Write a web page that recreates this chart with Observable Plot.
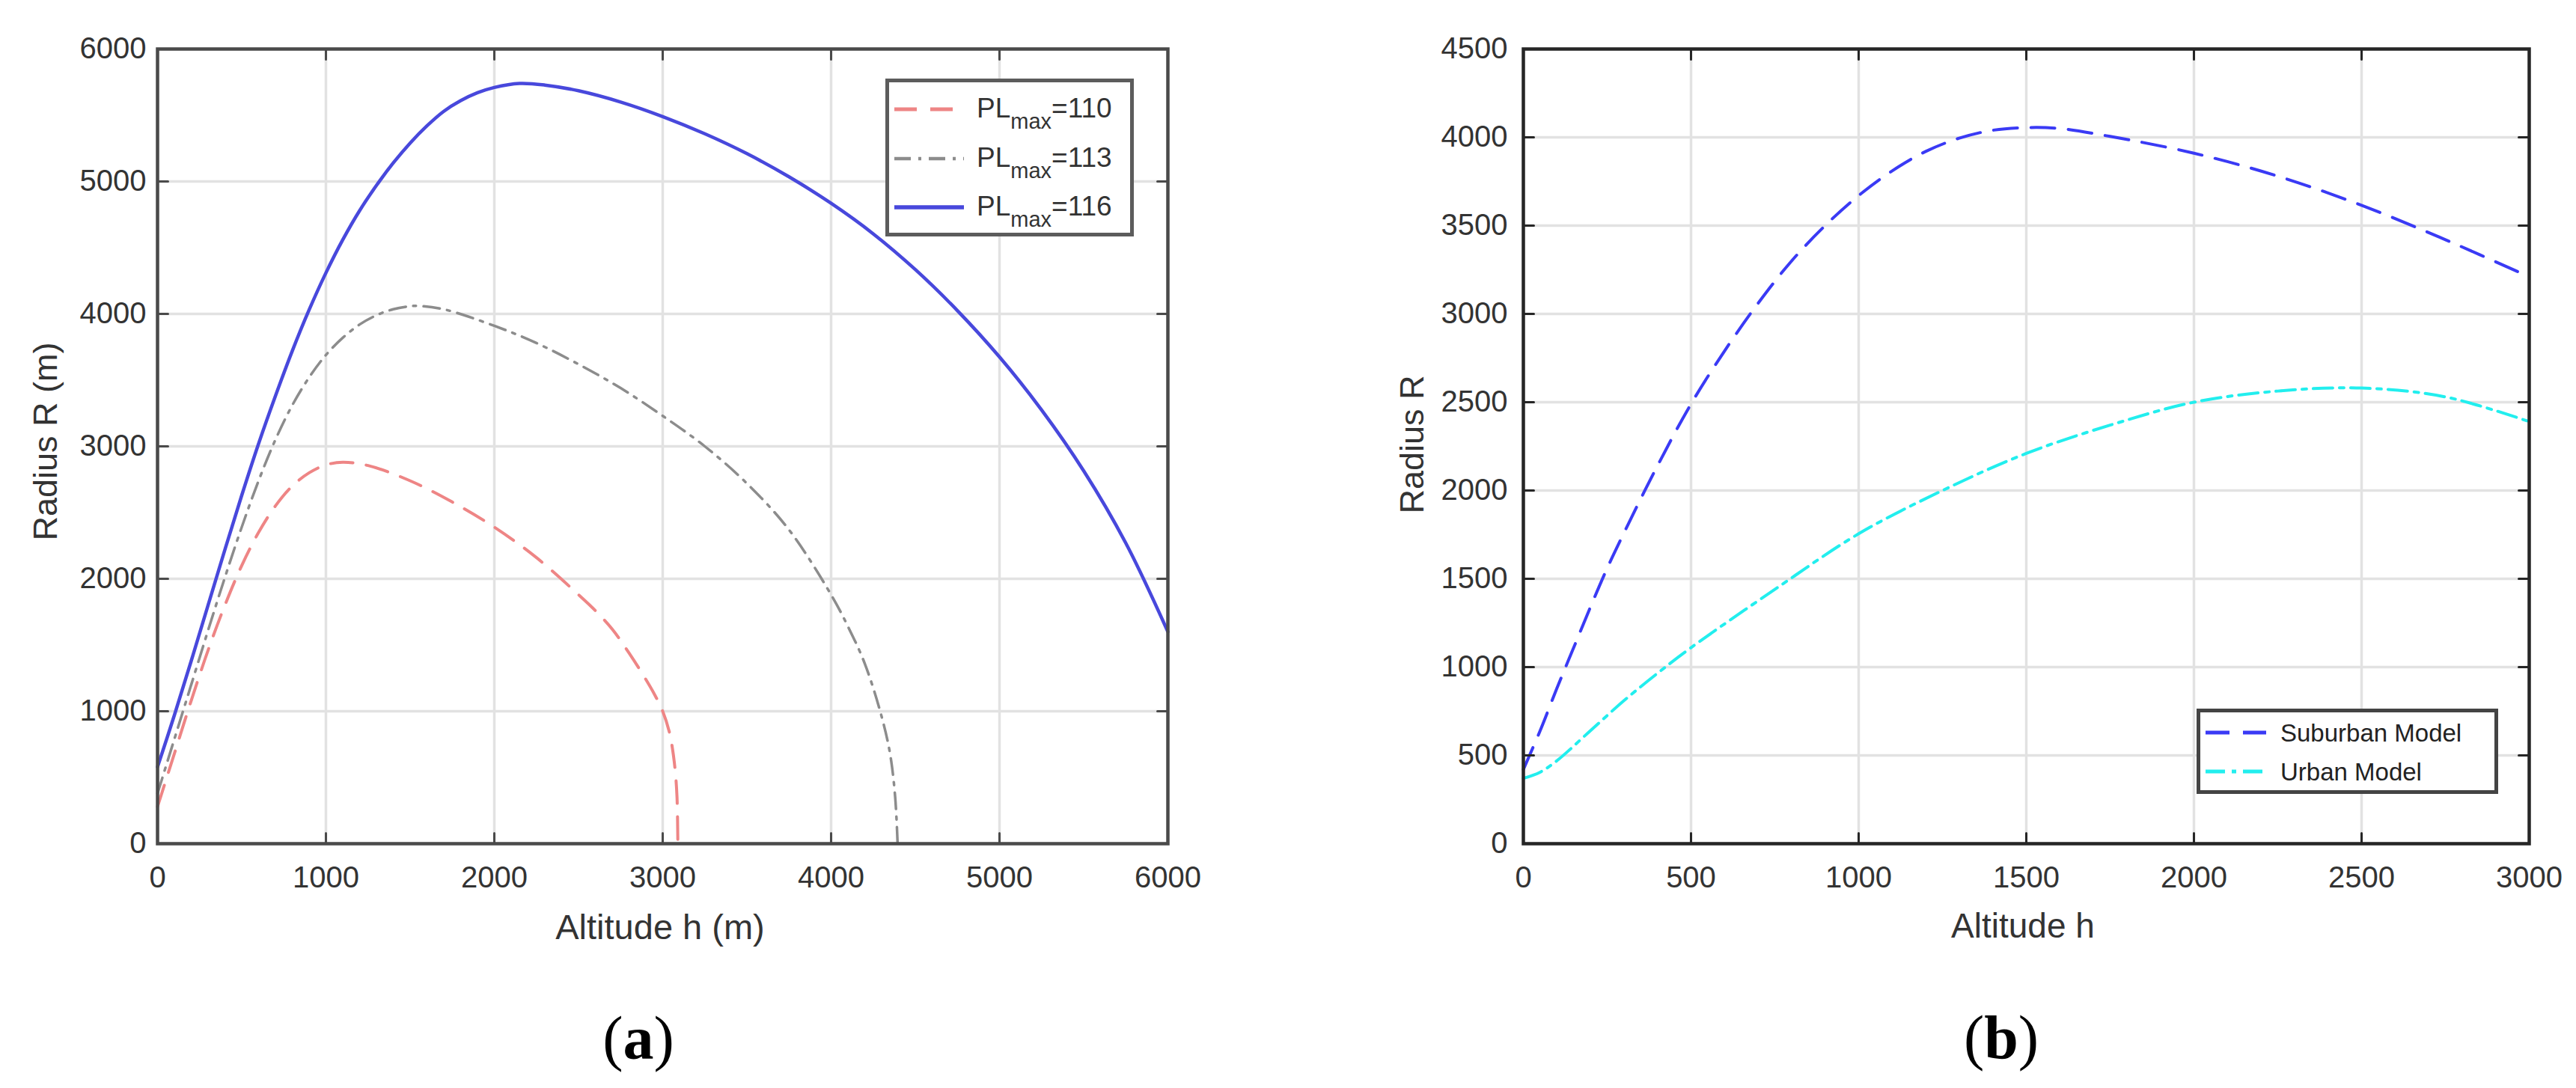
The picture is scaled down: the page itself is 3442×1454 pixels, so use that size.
<!DOCTYPE html>
<html>
<head>
<meta charset="utf-8">
<script src="https://cdn.jsdelivr.net/npm/d3@7"></script>
<script src="https://cdn.jsdelivr.net/npm/@observablehq/plot@0.6"></script>
<style>
  html, body { margin: 0; padding: 0; background: #fff; }
  body { width: 3442px; height: 1454px; position: relative; overflow: hidden;
         font-family: "Liberation Sans", Arial, Helvetica, sans-serif; color: #333; }
  .panel { position: absolute; top: 0; }
  .panel svg { display: block; max-width: none !important; }
  .axlabel { position: absolute; white-space: nowrap; line-height: 1; transform: translate(-50%, -50%); color: #333; }
  .ylab { transform: translate(-50%, -50%) rotate(-90deg); }
  .legend { position: absolute; box-sizing: border-box; background: #fff; }
  .legend .row { position: absolute; white-space: nowrap; line-height: 1; }
  .legend svg { position: absolute; overflow: visible; }
  .cap { position: absolute; font-family: "Liberation Serif", "Times New Roman", serif; font-size: 82px;
         line-height: 1; color: #000; transform: translate(-50%, -50%); white-space: nowrap; }
</style>
</head>
<body>
<div id="left" class="panel" style="left:0px;width:1720px;"></div>
<div id="right" class="panel" style="left:1720px;width:1722px;"></div>

<!-- axis labels -->
<div class="axlabel" style="left:882px;top:1238px;font-size:47px;">Altitude h (m)</div>
<div class="axlabel ylab" style="left:60px;top:590px;font-size:45px;">Radius R (m)</div>
<div class="axlabel" style="left:2703px;top:1237px;font-size:46px;">Altitude h</div>
<div class="axlabel ylab" style="left:1886px;top:594px;font-size:45px;">Radius R</div>

<!-- captions -->
<div class="cap" style="left:853px;top:1388px;">(<b>a</b>)</div>
<div class="cap" style="left:2674px;top:1387px;">(<b>b</b>)</div>

<!-- legends -->
<div id="legA" class="legend" style="left:1183px;top:105px;width:332px;height:211px;border:5px solid #5c5c5c;"></div>
<div id="legB" class="legend" style="left:2935px;top:947px;width:403px;height:114px;border:5px solid #444;"></div>

<script>
// ---------------- DATA ----------------
// Panel (a): Radius R vs altitude h for three maximum path loss values
const altitude110 = [0,100,200,300,400,500,600,700,800,900,1000,1100,1250,1500,1750,2000,2250,2500,2600,2700,2800,2900,2950,3000,3040,3060,3075,3085,3090];
const radius110   = [280,680,1080,1460,1800,2100,2350,2550,2700,2800,2860,2880,2855,2740,2580,2390,2160,1880,1760,1620,1440,1240,1130,1000,840,700,540,350,0];

const altitude113 = [0,100,200,300,400,500,600,700,800,900,1000,1100,1200,1300,1400,1500,1550,1700,2000,2250,2500,2750,3000,3250,3500,3750,4000,4100,4200,4300,4350,4380,4395];
const radius113   = [380,790,1200,1610,2010,2390,2740,3050,3310,3520,3690,3820,3920,3990,4035,4058,4060,4035,3910,3780,3620,3440,3230,3000,2720,2370,1880,1640,1360,960,680,360,0];

const altitude116 = [0,100,200,300,400,500,600,700,800,900,1000,1100,1200,1300,1400,1500,1600,1700,1800,1900,2000,2150,2300,2500,2750,3000,3250,3500,3750,4000,4250,4500,4750,5000,5250,5500,5750,6000];
const radius116   = [580,970,1380,1800,2220,2630,3020,3380,3720,4030,4310,4560,4780,4970,5140,5290,5420,5530,5610,5670,5710,5740,5728,5685,5600,5490,5360,5210,5035,4835,4605,4335,4025,3675,3275,2815,2270,1600];

// Panel (b): suburban vs urban model
const altitudeSuburban = [0,50,100,150,200,250,300,400,500,600,700,800,900,1000,1100,1200,1300,1400,1500,1600,1750,2000,2250,2500,2750,3000];
const radiusSuburban   = [420,640,880,1110,1340,1560,1760,2140,2490,2790,3060,3300,3500,3670,3810,3920,3995,4040,4055,4050,4005,3910,3780,3615,3420,3210];

const altitudeUrban = [0,50,100,200,300,400,500,750,1000,1250,1500,1750,2000,2250,2500,2750,3000];
const radiusUrban   = [370,405,470,640,810,965,1110,1440,1755,2000,2210,2370,2500,2563,2580,2530,2390];

// tick values
const xTicksA = [0,1000,2000,3000,4000,5000,6000];
const yTicksA = [0,1000,2000,3000,4000,5000,6000];
const xTicksB = [0,500,1000,1500,2000,2500,3000];
const yTicksB = [0,500,1000,1500,2000,2500,3000,3500,4000,4500];

// legend labels
const legendA = ["110", "113", "116"];
const legendB = ["Suburban Model", "Urban Model"];

// ---------------- STYLES ----------------
const seriesA = [
  {alt: altitude110, rad: radius110, color: "#ee8585", dash: "30,18", width: 4},
  {alt: altitude113, rad: radius113, color: "#8c8c8c", dash: "22,10,4,10", width: 3.5},
  {alt: altitude116, rad: radius116, color: "#4848dc", dash: null, width: 4.5}
];
const seriesB = [
  {alt: altitudeSuburban, rad: radiusSuburban, color: "#3a3af5", dash: "32,18", width: 4},
  {alt: altitudeUrban, rad: radiusUrban, color: "#22eeee", dash: "26,9,6,9", width: 4}
];

const toRows = (s) => s.alt.map((h, i) => ({h, r: s.rad[i]}));

function panel({width, marginLeft, marginRight, xDomain, yDomain, xTicks, yTicks, series, yPad, frameColor}) {
  const tickStyle = {stroke: frameColor, strokeWidth: 3, length: 14, r: 0, anchor: "start"};
  return Plot.plot({
    width, height: 1300,
    marginLeft, marginRight, marginTop: 65, marginBottom: 173,
    x: {domain: xDomain},
    y: {domain: yDomain},
    style: {background: "transparent", fontFamily: "Liberation Sans, Arial, sans-serif", fontSize: "40px"},
    marks: [
      Plot.gridX(xTicks, {stroke: "#e2e2e2", strokeOpacity: 1, strokeWidth: 3.5}),
      Plot.gridY(yTicks, {stroke: "#e2e2e2", strokeOpacity: 1, strokeWidth: 3.5}),
      ...series.map(s => Plot.line(toRows(s), {
        x: "h", y: "r", stroke: s.color, strokeWidth: s.width,
        strokeDasharray: s.dash, curve: "catmull-rom"
      })),
      // inward ticks on all four sides
      Plot.vector(xTicks, {x: d => d, y: () => yDomain[0], rotate: 0, ...tickStyle}),
      Plot.vector(xTicks, {x: d => d, y: () => yDomain[1], rotate: 180, ...tickStyle}),
      Plot.vector(yTicks, {x: () => xDomain[0], y: d => d, rotate: 90, ...tickStyle}),
      Plot.vector(yTicks, {x: () => xDomain[1], y: d => d, rotate: 270, ...tickStyle}),
      Plot.frame({stroke: frameColor, strokeWidth: 4.5}),
      Plot.axisX(xTicks, {tickSize: 0, tickPadding: 30, fontSize: 40, fill: "#333", tickFormat: d3.format("d"), label: null}),
      Plot.axisY(yTicks, {tickSize: 0, tickPadding: yPad, fontSize: 40, fill: "#333", tickFormat: d3.format("d"), label: null})
    ]
  });
}

document.getElementById("left").appendChild(panel({
  width: 1720, marginLeft: 210, marginRight: 160,
  xDomain: [0, 6000], yDomain: [0, 6000],
  xTicks: xTicksA, yTicks: yTicksA, series: seriesA, yPad: 15, frameColor: "#4a4a4a"
}));

document.getElementById("right").appendChild(panel({
  width: 1722, marginLeft: 315, marginRight: 63,
  xDomain: [0, 3000], yDomain: [0, 4500],
  xTicks: xTicksB, yTicks: yTicksB, series: seriesB, yPad: 21, frameColor: "#262626"
}));

// ---------------- LEGENDS ----------------
function sample(s, x1, x2, cy) {
  const NS = "http://www.w3.org/2000/svg";
  const svg = document.createElementNS(NS, "svg");
  svg.setAttribute("width", x2 - x1);
  svg.setAttribute("height", 10);
  svg.style.left = x1 + "px";
  svg.style.top = (cy - 5) + "px";
  const ln = document.createElementNS(NS, "line");
  ln.setAttribute("x1", 0); ln.setAttribute("x2", x2 - x1);
  ln.setAttribute("y1", 5); ln.setAttribute("y2", 5);
  ln.setAttribute("stroke", s.color);
  ln.setAttribute("stroke-width", s.width + 1);
  if (s.dash) ln.setAttribute("stroke-dasharray", s.dash);
  svg.appendChild(ln);
  return svg;
}

const legA = document.getElementById("legA");
const rowCentersA = [36, 102, 167];
legendA.forEach((v, i) => {
  legA.appendChild(sample(seriesA[i], 7, 100, rowCentersA[i]));
  const row = document.createElement("div");
  row.className = "row";
  row.style.left = "117px";
  row.style.top = (rowCentersA[i] + 11 - 31) + "px";
  row.style.fontSize = "37px";
  row.style.color = "#333";
  row.innerHTML = `PL<span style="font-size:29px;position:relative;top:15px;">max</span>=${v}`;
  legA.appendChild(row);
});

const legB = document.getElementById("legB");
const rowCentersB = [27, 79];
legendB.forEach((v, i) => {
  legB.appendChild(sample(seriesB[i], 7, 88, rowCentersB[i]));
  const row = document.createElement("div");
  row.className = "row";
  row.style.left = "107px";
  row.style.top = (rowCentersB[i] + 12 - 28) + "px";
  row.style.fontSize = "33px";
  row.style.color = "#222";
  row.textContent = v;
  legB.appendChild(row);
});
</script>
</body>
</html>
